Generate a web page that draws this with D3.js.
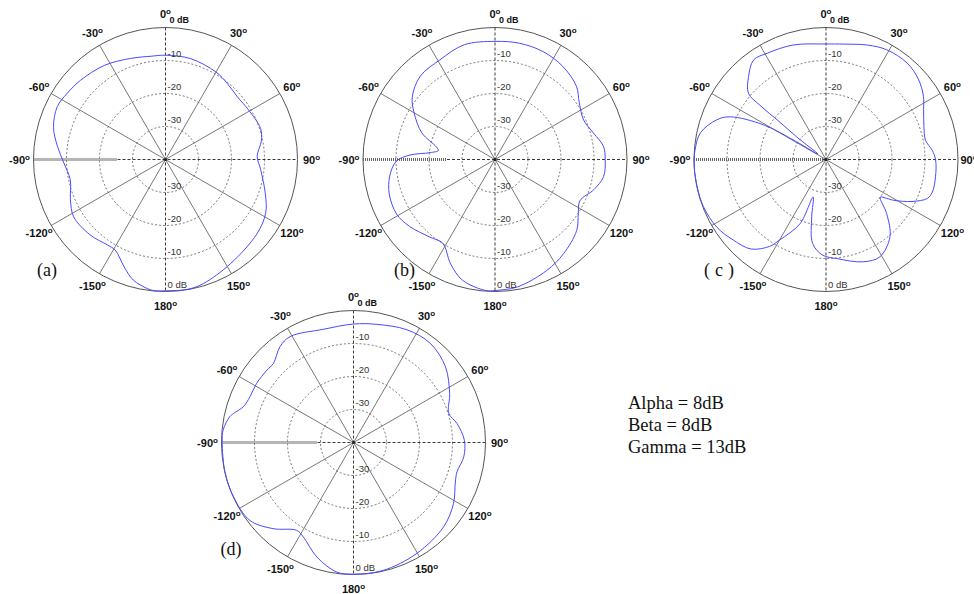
<!DOCTYPE html>
<html><head><meta charset="utf-8">
<script src="https://cdn.jsdelivr.net/npm/d3@7"></script>
<style>body{margin:0;background:#fff} svg{display:block}</style>
</head><body>
<svg id="chart" width="974" height="594"></svg>
<script>
// ---- data ----
const angleTicks = [0, 30, 60, 90, 120, 150, 180, -150, -120, -90, -60, -30];
const ringTicks = [-10, -20, -30];
const panelLabels = ["(a)", "(b)", "(c)", "(d)"];
const noteLines = ["Alpha = 8dB", "Beta = 8dB", "Gamma = 13dB"];

// angles in degrees (0 = top, clockwise), gains in dB
const anglesA = [-175,-172,-165,-159,-151,-146,-135,-122,-113,-102,-92,-83,-74,-64,-56,-47,-33,-19,-8,0,14,30,39,49,59,72,79,88,96,109,118,129,148,163,170,180];
const gainA   = [-0.1,-0.5,-2.2,-5.1,-8.6,-8.7,-7.7,-7.2,-8.7,-10.5,-9.2,-7.0,-4.7,-3.5,-4.1,-4.8,-6.0,-7.6,-8.4,-8.4,-8.5,-9.4,-10.3,-11.1,-10.7,-9.7,-10.4,-12.2,-11.0,-8.0,-5.6,-4.3,-2.8,-0.7,-0.1,-0.2];

const anglesB = [-176,-165,-157,-148,-140,-128,-119,-108,-99,-91,-87,-84,-81,-78,-70,-60,-53,-42,-29,-15,0,12,24,36,48,56,66,75,83,90,99,107,116,123,131,144,155,170,180];
const gainB   = [-0.2,-2.1,-5.6,-10.1,-9.3,-7.1,-5.9,-6.3,-7.7,-10.1,-14.2,-20.2,-22.6,-21.9,-16.4,-11.7,-8.6,-6.1,-5.5,-4.0,-4.2,-4.0,-4.2,-5.1,-6.8,-9.2,-10.6,-9.1,-6.9,-6.6,-6.7,-8.7,-11.4,-9.9,-7.2,-4.7,-2.9,-0.8,-0.3];

const anglesC = [-178,-171,-166,-161,-158,-150,-147,-140,-131,-122,-111,-102,-93,-86,-78,-70,-66,-61,-59,-56,-52.4,-51,-50.6,-49.5,-43,-36,-29,-16,0,9,20,29,40,49,57,63,71.5,79,85,90,99,107,111,116,121,122.7,124.7,131.7,140.4,151,160,173.8];
const gainC   = [-11.0,-14.2,-22.1,-28.0,-19.0,-11.8,-8.6,-4.6,-2.8,-1.1,-0.2,-0.1,0,-0.2,-1.1,-4.8,-8.2,-18.3,-29.6,-37.0,-28.8,-22.0,-14.0,-9.1,-5.6,-2.7,-3.2,-3.9,-5.0,-4.6,-3.1,-2.0,-1.8,-2.9,-4.8,-6.8,-8.7,-9.3,-7.7,-6.8,-6.4,-6.3,-7.1,-11.0,-16.0,-18.2,-20.0,-15.4,-9.6,-6.3,-7.0,-9.8];

const anglesD = [-172.7,-162.2,-152,-147.1,-137,-126.9,-114.4,-103.6,-89.6,-84.6,-78.2,-76.4,-72,-66.2,-58.6,-50.2,-45.4,-37.5,-30.9,-14.9,0,11.2,25.4,37.8,50.5,63,73,79.6,88.8,97.4,105.8,111.2,121.4,133.1,150.3,167,180];
const gainD   = [-0.4,-3.6,-7.6,-8.3,-4.3,-0.7,-0.1,0,-0.2,-0.3,-1.7,-2.6,-4.9,-5.7,-5.6,-5.8,-5.9,-3.4,-2.6,-4.5,-4.1,-3.5,-2.2,-2.0,-3.9,-7.3,-9.8,-8.1,-6.4,-6.3,-7.4,-6.9,-4.5,-2.6,-1.3,-0.2,-0.1];

// ---- layout ----
const svg = d3.select("#chart");
const R = 132;
const rScale = d3.scaleLinear().domain([-40, 0]).range([0, R]);
const toRad = d => d * Math.PI / 180;

const panels = [
  {cx: 165.5, cy: 159.5, ang: anglesA, gain: gainA, label: panelLabels[0], lx: 37, ly: 276, hatch: 48},
  {cx: 495,   cy: 159.5, ang: anglesB, gain: gainB, label: panelLabels[1], lx: 394, ly: 276, hatch: 48},
  {cx: 826,   cy: 159.5, ang: anglesC, gain: gainC, label: panelLabels[2], lx: 704, ly: 276, hatch: 3, spacing: 5},
  {cx: 353.5, cy: 442.5, ang: anglesD, gain: gainD, label: panelLabels[3], lx: 220.5, ly: 555, hatch: 36}
];

const line = d3.lineRadial()
  .angle(d => toRad(d[0]))
  .radius(d => rScale(d[1]))
  .curve(d3.curveCatmullRomClosed.alpha(0.5));

panels.forEach((p, pi) => {
  const g = svg.append("g").attr("transform", `translate(${p.cx},${p.cy})`);

  g.selectAll("circle.ring").data(ringTicks).join("circle")
    .attr("r", d => rScale(d)).attr("fill", "none")
    .attr("stroke", "#555").attr("stroke-width", 0.8).attr("stroke-dasharray", "2,2");

  g.selectAll("line.spoke").data(angleTicks.filter(a => a % 90 !== 0)).join("line")
    .attr("x1", 0).attr("y1", 0)
    .attr("x2", d => R * Math.sin(toRad(d)))
    .attr("y2", d => -R * Math.cos(toRad(d)))
    .attr("stroke", "#555").attr("stroke-width", 0.8);

  g.append("line").attr("x1", 0).attr("x2", 0).attr("y1", -R).attr("y2", R)
    .attr("stroke", "#222").attr("stroke-width", 0.9).attr("stroke-dasharray", "3,2");
  g.append("line").attr("x1", -R).attr("x2", -p.hatch).attr("y1", 0).attr("y2", 0)
    .attr("stroke", "#6a6a6a").attr("stroke-width", 3).attr("stroke-dasharray", "1,1");
  g.append("line").attr("x1", -p.hatch).attr("x2", R).attr("y1", 0).attr("y2", 0)
    .attr("stroke", "#222").attr("stroke-width", 0.9).attr("stroke-dasharray", "3,2");

  g.append("circle").attr("r", R).attr("fill", "none")
    .attr("stroke", "#555").attr("stroke-width", 1);

  g.append("circle").attr("r", 1.6).attr("fill", "#222");

  const pts = p.ang.map((a, i) => [a, p.gain[i]]);
  g.append("path").attr("d", line(pts)).attr("fill", "none")
    .attr("stroke", "#4a4aff").attr("stroke-width", 1);

  ringTicks.forEach(t => {
    [-1, 1].forEach(s => {
      g.append("text").attr("x", 2).attr("y", s * rScale(t) - 4)
        .attr("font-family", "Liberation Sans, Arial, sans-serif").attr("font-size", 9.5)
        .attr("fill", "#333").text(t);
    });
  });
  g.append("text").attr("x", 2).attr("y", R - 4)
    .attr("font-family", "Liberation Sans, Arial, sans-serif").attr("font-size", 9.5)
    .attr("fill", "#333").text("0 dB");
  g.append("text").attr("x", 4).attr("y", -R - 5)
    .attr("font-family", "Liberation Sans, Arial, sans-serif").attr("font-size", 9)
    .attr("font-weight", "bold").attr("fill", "#111").text("0 dB");

  angleTicks.forEach(a => {
    const rr = R + 14;
    // panel (c)'s 90 label sits at the page edge in the reference; keep the number visible
    const shift = (pi === 2 && a === 90) ? -3 : 0;
    const t = g.append("text")
      .attr("x", rr * Math.sin(toRad(a)) + shift)
      .attr("y", -rr * Math.cos(toRad(a)) + 4)
      .attr("text-anchor", "middle")
      .attr("font-family", "Liberation Sans, Arial, sans-serif")
      .attr("font-size", 11).attr("font-weight", "bold").attr("fill", "#111");
    t.append("tspan").text(a);
    t.append("tspan").attr("dy", -4).attr("font-size", 8).text("o");
  });

  svg.append("text").attr("x", p.lx).attr("y", p.ly)
    .attr("font-family", "Liberation Serif, Times New Roman, serif")
    .attr("font-size", 18).attr("fill", "#111")
    .attr("letter-spacing", p.spacing || 0)
    .text(p.label);
});

svg.selectAll("text.note").data(noteLines).join("text")
  .attr("class", "note")
  .attr("x", 628).attr("y", (d, i) => 408.5 + i * 22)
  .attr("font-family", "Liberation Serif, Times New Roman, serif")
  .attr("font-size", 18.5).attr("fill", "#111")
  .text(d => d);
</script>
</body></html>
